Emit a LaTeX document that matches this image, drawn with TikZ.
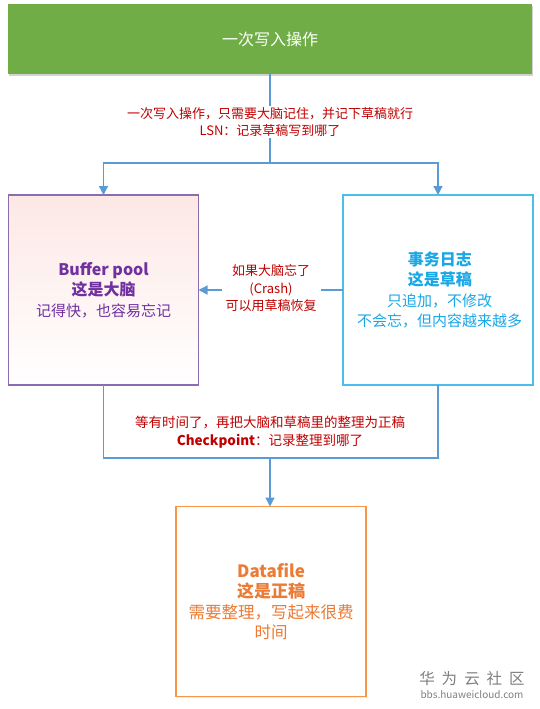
\documentclass[tikz,border=0pt]{standalone}
\usepackage{fontspec}
\setmainfont{Noto Sans CJK SC}
\usetikzlibrary{arrows.meta,shadows}
\definecolor{cgreen}{HTML}{70AD47}
\definecolor{cline}{HTML}{5B9BD5}
\definecolor{cred}{HTML}{C00000}
\definecolor{cpurB}{HTML}{8A6DAE}
\definecolor{cpurT}{HTML}{7030A0}
\definecolor{cbluB}{HTML}{4DBDEE}
\definecolor{cbluT}{HTML}{1AA7E6}
\definecolor{coraB}{HTML}{F79646}
\definecolor{coraT}{HTML}{EB7B35}
\definecolor{cpink}{HTML}{FCE8E5}
\newcommand{\hd}[1][21]{\fontsize{16}{#1}\selectfont\bfseries}
\newcommand{\nm}[1][21]{\fontsize{15}{#1}\selectfont\mdseries}
\begin{document}
\begin{tikzpicture}[x=1pt,y=-1pt,
  box/.style={draw, line width=1.1pt, minimum width=190pt, minimum height=190pt, inner sep=0pt, outer sep=0pt, align=center, font=\fontsize{15}{20.5}\selectfont},
  conn/.style={cline, line width=1.3pt},
  arr/.style={conn, -{Triangle[width=9pt,length=9pt]}},
  lbl/.style={text=cred, align=center, fill=white, inner sep=1pt, font=\fontsize{13}{17.5}\selectfont},
  wm/.style={text=black!50, inner sep=0pt}
]
\useasboundingbox[fill=white] (0,0) rectangle (540,709);
% top bar
\node[fill=cgreen, text=white, minimum width=524pt, minimum height=70pt, inner sep=0pt, outer sep=0pt,
  drop shadow={opacity=0.35, shadow xshift=1pt, shadow yshift=-2pt},
  font=\fontsize{16}{20}\selectfont] (top) at (270,39) {一次写入操作};
% boxes
\node[box, draw=cpurB, top color=cpink, middle color=white!60!cpink, bottom color=white, text=cpurT] (bp) at (103.5,290)
  {\hd Buffer pool\\ \hd 这是大脑\\ \nm 记得快，也容易忘记};
\node[box, draw=cbluB, fill=white, text=cbluT] (log) at (438,290)
  {\hd[19.5] 事务日志\\ \hd[19.5] 这是草稿\\ \nm[19.5] 只追加，不修改\\ \nm[19.5] 不会忘，但内容越来越多};
\node[box, draw=coraB, fill=white, text=coraT,
  drop shadow={opacity=0.12, shadow xshift=1pt, shadow yshift=-1pt}] (df) at (271,601.5)
  {\fontsize{17}{20.5}\selectfont\bfseries Datafile\\ \fontsize{17}{20.5}\selectfont\bfseries 这是正稿\\ \fontsize{16.5}{20.5}\selectfont\mdseries 需要整理，写起来很费\\ \fontsize{16.5}{20.5}\selectfont\mdseries 时间};
% top connectors
\coordinate (j1) at (270,163);
\draw[conn] (top.south) -- (j1);
\draw[arr] (j1) -| (bp.north);
\draw[arr] (j1) -| (log.north);
\node[lbl] (l1) at (270,122) {一次写入操作，只需要大脑记住，并记下草稿就行\\ LSN：记录草稿写到哪了};
% crash arrow
\draw[arr] (log.west) -- (bp.east);
\node[lbl, inner xsep=4pt] (l2) at (271,288.5) {如果大脑忘了\\ (Crash)\\ 可以用草稿恢复};
% bottom connectors
\coordinate (j2) at (270,458);
\draw[conn] (bp.south) |- (j2);
\draw[conn] (log.south) |- (j2);
\draw[arr] (j2) -- (df.north -| j2);
\node[lbl, font=\fontsize{13.5}{18}\selectfont] (l3) at (270,432) {等有时间了，再把大脑和草稿里的整理为正稿\\ \textbf{Checkpoint}：记录整理到哪了};
% watermark
\node[wm, font=\fontsize{15.5}{15.5}\selectfont] (wm1) at (472,679) {华\hspace{7pt}为\hspace{7pt}云\hspace{7pt}社\hspace{7pt}区};
\node[wm, font=\fontsize{10}{10}\selectfont] (wm2) at (472,694.5) {bbs.huaweicloud.com};
\end{tikzpicture}
\end{document}
